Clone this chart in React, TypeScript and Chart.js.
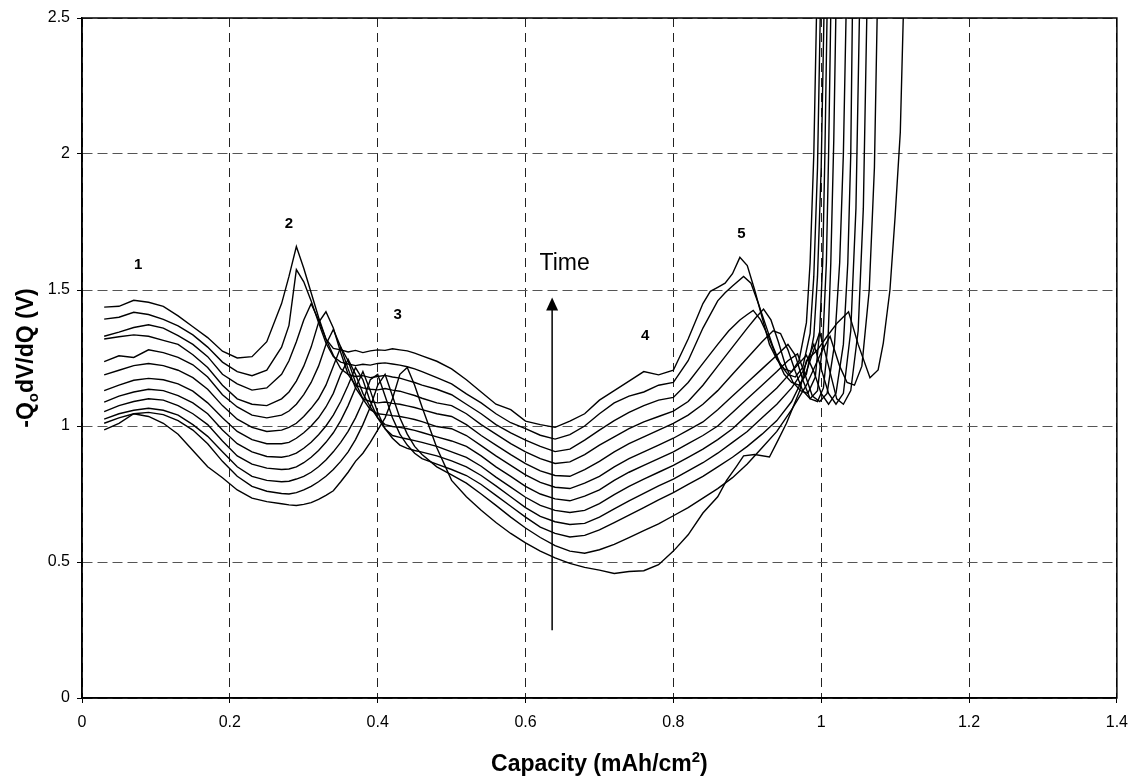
import React, { useEffect, useRef } from "react";
import { Chart, registerables } from "chart.js";

Chart.register(...registerables);

const FONT = "'Liberation Sans', Arial, Helvetica, sans-serif";

// Common capacity grid (mAh/cm2) for the first part of every curve
const GRID_X = [
  0.03, 0.05, 0.07, 0.09, 0.11, 0.13, 0.15, 0.17, 0.19, 0.21, 0.23, 0.25, 0.27,
  0.28, 0.29, 0.3, 0.31, 0.32, 0.33, 0.34, 0.35, 0.36, 0.37, 0.38, 0.39, 0.4, 0.41, 0.42, 0.43, 0.44, 0.45, 0.46,
  0.48, 0.5, 0.52, 0.54, 0.56, 0.58, 0.6, 0.62, 0.64, 0.66, 0.68, 0.7, 0.72, 0.74, 0.76, 0.78, 0.8, 0.82, 0.84,
];

// -QodV/dQ values on GRID_X, curve 0 = top (latest) ... curve 11 = bottom
const C0 = [
  1.437, 1.44, 1.462, 1.455, 1.44, 1.405, 1.365, 1.325, 1.275, 1.25, 1.255, 1.31, 1.45,
  1.55, 1.66, 1.58, 1.49, 1.4, 1.32, 1.285, 1.28, 1.272, 1.278, 1.27, 1.276, 1.28, 1.278, 1.284, 1.28, 1.276, 1.268, 1.258,
  1.238, 1.21, 1.17, 1.125, 1.08, 1.06, 1.018, 1.005, 0.995, 1.018, 1.045, 1.095, 1.13, 1.165, 1.2, 1.188, 1.205, 1.32, 1.45,
];
const C1 = [
  1.393, 1.4, 1.418, 1.41, 1.392, 1.368, 1.335, 1.29, 1.235, 1.2, 1.185, 1.205, 1.29,
  1.37, 1.575, 1.53, 1.46, 1.38, 1.305, 1.255, 1.235, 1.228, 1.222, 1.227, 1.224, 1.23, 1.232, 1.228, 1.224, 1.218, 1.21, 1.2,
  1.178, 1.155, 1.118, 1.085, 1.045, 1.012, 0.99, 0.966, 0.952, 0.968, 1.0, 1.045, 1.085, 1.11, 1.125, 1.15, 1.16, 1.24, 1.36,
];
const C2 = [
  1.33, 1.345, 1.362, 1.372, 1.36, 1.332, 1.3, 1.255, 1.19, 1.155, 1.132, 1.14, 1.19,
  1.24, 1.31, 1.39, 1.45, 1.39, 1.32, 1.26, 1.21, 1.19, 1.182, 1.185, 1.178, 1.182, 1.186, 1.18, 1.176, 1.168, 1.16, 1.15,
  1.135, 1.115, 1.08, 1.045, 1.005, 0.975, 0.948, 0.925, 0.906, 0.915, 0.948, 0.985, 1.02, 1.05, 1.075, 1.095, 1.105, 1.16, 1.23,
];
const C3 = [
  1.32, 1.328, 1.335, 1.33, 1.315, 1.3, 1.262, 1.215, 1.15, 1.1, 1.08, 1.075, 1.1,
  1.125, 1.165, 1.22, 1.29, 1.38, 1.42, 1.36, 1.27, 1.19, 1.15, 1.14, 1.135, 1.133, 1.138, 1.132, 1.128, 1.12, 1.112, 1.102,
  1.085, 1.075, 1.045, 1.005, 0.97, 0.935, 0.905, 0.88, 0.862, 0.868, 0.895, 0.93, 0.96, 0.99, 1.015, 1.035, 1.055, 1.09, 1.15,
];
const C4 = [
  1.237, 1.258, 1.252, 1.28, 1.27, 1.252, 1.225, 1.18, 1.115, 1.07, 1.04, 1.03, 1.04,
  1.055, 1.08, 1.115, 1.16, 1.22, 1.3, 1.355, 1.29, 1.21, 1.14, 1.1, 1.09, 1.085, 1.088, 1.083, 1.08, 1.074, 1.068, 1.06,
  1.045, 1.035, 1.005, 0.965, 0.93, 0.895, 0.862, 0.835, 0.818, 0.815, 0.84, 0.87, 0.905, 0.935, 0.96, 0.985, 1.01, 1.04, 1.08,
];
const C5 = [
  1.188, 1.205, 1.222, 1.23, 1.222, 1.205, 1.178, 1.135, 1.075, 1.025, 0.995, 0.98, 0.985,
  0.995, 1.01, 1.035, 1.065, 1.1, 1.15, 1.22, 1.29, 1.24, 1.16, 1.1, 1.06, 1.045, 1.042, 1.038, 1.035, 1.03, 1.024, 1.016,
  0.998, 0.99, 0.965, 0.928, 0.89, 0.855, 0.82, 0.793, 0.775, 0.77, 0.79, 0.815, 0.85, 0.88, 0.905, 0.93, 0.955, 0.985, 1.015,
];
const C6 = [
  1.13, 1.15, 1.168, 1.175, 1.17, 1.155, 1.128, 1.085, 1.03, 0.98, 0.95, 0.935, 0.935,
  0.94, 0.955, 0.975, 1.0, 1.03, 1.07, 1.12, 1.19, 1.245, 1.19, 1.12, 1.07, 1.03, 1.005, 0.998, 0.995, 0.99, 0.984, 0.976,
  0.96, 0.945, 0.925, 0.89, 0.85, 0.815, 0.778, 0.75, 0.732, 0.725, 0.742, 0.765, 0.8, 0.83, 0.855, 0.88, 0.905, 0.935, 0.965,
];
const C7 = [
  1.088, 1.11, 1.125, 1.135, 1.13, 1.112, 1.085, 1.045, 0.985, 0.935, 0.905, 0.888, 0.885,
  0.89, 0.9, 0.918, 0.94, 0.968, 1.0, 1.04, 1.09, 1.15, 1.215, 1.17, 1.09, 1.03, 0.99, 0.965, 0.958, 0.952, 0.946, 0.94,
  0.925, 0.905, 0.885, 0.852, 0.812, 0.775, 0.738, 0.708, 0.69, 0.682, 0.69, 0.715, 0.748, 0.778, 0.805, 0.83, 0.855, 0.885, 0.915,
];
const C8 = [
  1.053, 1.075, 1.09, 1.1, 1.095, 1.075, 1.045, 1.005, 0.945, 0.89, 0.86, 0.845, 0.84,
  0.842, 0.85, 0.865, 0.885, 0.91, 0.94, 0.975, 1.02, 1.075, 1.14, 1.2, 1.13, 1.05, 0.99, 0.955, 0.93, 0.918, 0.91, 0.904,
  0.89, 0.872, 0.85, 0.818, 0.78, 0.74, 0.7, 0.668, 0.648, 0.638, 0.642, 0.665, 0.695, 0.725, 0.752, 0.78, 0.805, 0.835, 0.865,
];
const C9 = [
  1.025, 1.045, 1.058, 1.065, 1.058, 1.04, 1.005, 0.962, 0.905, 0.85, 0.815, 0.8, 0.795,
  0.797, 0.805, 0.815, 0.83, 0.85, 0.875, 0.905, 0.94, 0.98, 1.03, 1.09, 1.17, 1.19, 1.11, 1.03, 0.97, 0.93, 0.9, 0.88,
  0.86, 0.84, 0.818, 0.785, 0.745, 0.705, 0.665, 0.628, 0.605, 0.592, 0.598, 0.618, 0.645, 0.672, 0.7, 0.728, 0.755, 0.785, 0.815,
];
const C10 = [
  1.01, 1.03, 1.045, 1.05, 1.042, 1.02, 0.985, 0.935, 0.87, 0.815, 0.778, 0.76, 0.752,
  0.75, 0.755, 0.765, 0.778, 0.795, 0.815, 0.84, 0.87, 0.905, 0.95, 1.005, 1.07, 1.15, 1.19, 1.11, 1.03, 0.97, 0.925, 0.895,
  0.85, 0.82, 0.79, 0.75, 0.708, 0.665, 0.625, 0.59, 0.56, 0.54, 0.532, 0.545, 0.565, 0.59, 0.615, 0.64, 0.67, 0.7, 0.735,
];
const C11 = [
  0.986, 1.01, 1.045, 1.035, 1.01, 0.97, 0.91, 0.85, 0.81, 0.765, 0.735, 0.722, 0.714,
  0.71, 0.708, 0.712, 0.718, 0.73, 0.745, 0.762, 0.795, 0.83, 0.87, 0.9, 0.94, 0.985, 1.03, 1.1, 1.19, 1.215, 1.15, 1.07,
  0.92, 0.8, 0.74, 0.69, 0.645, 0.605, 0.57, 0.54, 0.515, 0.495, 0.48, 0.47, 0.458, 0.465, 0.468, 0.49, 0.54, 0.6, 0.68,
];

// Tails (peak 5, dip and the steep rise at end of discharge), per curve
const T0X = [0.85, 0.86, 0.87, 0.88, 0.89, 0.9, 0.91, 0.92, 0.93, 0.94, 0.95, 0.96, 0.97, 0.98, 0.985, 0.99, 0.995];
const T0Y = [1.495, 1.51, 1.525, 1.56, 1.62, 1.59, 1.5, 1.4, 1.3, 1.245, 1.21, 1.2, 1.24, 1.38, 1.6, 2.0, 2.7];
const T1X = [0.86, 0.87, 0.88, 0.895, 0.905, 0.915, 0.925, 0.935, 0.945, 0.955, 0.965, 0.975, 0.985, 0.99, 0.995, 1.0];
const T1Y = [1.46, 1.49, 1.515, 1.55, 1.525, 1.45, 1.37, 1.29, 1.225, 1.19, 1.18, 1.215, 1.34, 1.55, 1.95, 2.7];
const T2X = [0.86, 0.875, 0.89, 0.9, 0.908, 0.918, 0.93, 0.94, 0.95, 0.96, 0.97, 0.98, 0.99, 0.995, 1.0, 1.005];
const T2Y = [1.3, 1.35, 1.39, 1.41, 1.425, 1.39, 1.32, 1.25, 1.19, 1.16, 1.15, 1.19, 1.33, 1.55, 1.95, 2.7];
const T3X = [0.86, 0.88, 0.9, 0.912, 0.922, 0.932, 0.942, 0.952, 0.962, 0.972, 0.982, 0.992, 0.998, 1.002, 1.005, 1.009];
const T3Y = [1.22, 1.29, 1.36, 1.4, 1.43, 1.39, 1.31, 1.22, 1.16, 1.13, 1.12, 1.18, 1.35, 1.6, 2.0, 2.7];
const T4X = [0.86, 0.88, 0.9, 0.92, 0.935, 0.945, 0.955, 0.965, 0.975, 0.985, 0.995, 1.002, 1.007, 1.01, 1.014];
const T4Y = [1.13, 1.19, 1.25, 1.31, 1.35, 1.34, 1.28, 1.2, 1.13, 1.1, 1.13, 1.3, 1.6, 2.0, 2.7];
const T5X = [0.86, 0.88, 0.9, 0.92, 0.94, 0.955, 0.965, 0.975, 0.985, 0.995, 1.003, 1.009, 1.013, 1.017, 1.021];
const T5Y = [1.06, 1.11, 1.16, 1.21, 1.26, 1.3, 1.26, 1.17, 1.1, 1.09, 1.14, 1.3, 1.6, 2.05, 2.7];
const T6X = [0.86, 0.88, 0.9, 0.92, 0.94, 0.955, 0.968, 0.978, 0.988, 0.998, 1.008, 1.018, 1.025, 1.03, 1.035];
const T6Y = [1.0, 1.05, 1.1, 1.15, 1.2, 1.24, 1.265, 1.19, 1.11, 1.09, 1.12, 1.3, 1.6, 2.0, 2.7];
const T7X = [0.86, 0.88, 0.9, 0.92, 0.94, 0.96, 0.98, 0.99, 1.0, 1.01, 1.02, 1.03, 1.036, 1.04, 1.043];
const T7Y = [0.95, 0.99, 1.04, 1.09, 1.14, 1.2, 1.26, 1.2, 1.12, 1.08, 1.12, 1.3, 1.6, 2.0, 2.7];
const T8X = [0.86, 0.88, 0.9, 0.92, 0.94, 0.96, 0.975, 0.99, 1.0, 1.01, 1.02, 1.03, 1.04, 1.047, 1.053];
const T8Y = [0.9, 0.94, 0.98, 1.03, 1.08, 1.14, 1.2, 1.3, 1.21, 1.12, 1.08, 1.12, 1.35, 1.8, 2.7];
const T9X = [0.86, 0.88, 0.9, 0.92, 0.94, 0.96, 0.98, 0.998, 1.01, 1.021, 1.03, 1.04, 1.05, 1.057, 1.063];
const T9Y = [0.85, 0.885, 0.925, 0.97, 1.02, 1.09, 1.2, 1.345, 1.22, 1.1, 1.08, 1.13, 1.35, 1.8, 2.7];
const T10X = [0.86, 0.88, 0.9, 0.92, 0.94, 0.96, 0.98, 1.0, 1.012, 1.025, 1.035, 1.045, 1.055, 1.065, 1.072, 1.077];
const T10Y = [0.77, 0.81, 0.86, 0.92, 0.98, 1.06, 1.15, 1.27, 1.33, 1.22, 1.16, 1.15, 1.22, 1.5, 1.95, 2.7];
const T11X = [0.86, 0.872, 0.885, 0.895, 0.91, 0.93, 0.942, 0.953, 0.962, 0.971, 0.98, 0.995, 1.008, 1.022, 1.037, 1.05, 1.066, 1.077, 1.084, 1.093, 1.1, 1.107, 1.111, 1.114];
const T11Y = [0.74, 0.8, 0.85, 0.89, 0.895, 0.886, 0.95, 1.01, 1.07, 1.13, 1.24, 1.28, 1.33, 1.38, 1.42, 1.3, 1.177, 1.206, 1.305, 1.5, 1.77, 2.08, 2.5, 2.75];

const CURVES: [number[], number[], number[]][] = [
  [C0, T0X, T0Y], [C1, T1X, T1Y], [C2, T2X, T2Y], [C3, T3X, T3Y],
  [C4, T4X, T4Y], [C5, T5X, T5Y], [C6, T6X, T6Y], [C7, T7X, T7Y],
  [C8, T8X, T8Y], [C9, T9X, T9Y], [C10, T10X, T10Y], [C11, T11X, T11Y],
];

const X_TICKS = [0, 0.2, 0.4, 0.6, 0.8, 1, 1.2, 1.4];
const Y_TICKS = [0, 0.5, 1, 1.5, 2, 2.5];

// Peak annotations
const PEAK_LABELS = ["1", "2", "3", "4", "5"];
const PEAK_X = [0.076, 0.28, 0.427, 0.762, 0.892];
const PEAK_Y = [1.592, 1.743, 1.408, 1.33, 1.706];
const TIME_LABEL = "Time";
const TIME_POS = [0.653, 1.596];
const ARROW_X = 0.636;
const ARROW_FROM = 0.249;
const ARROW_TO = 1.472;

const X_TITLE = ["Capacity (mAh/cm", "2", ")"];
const Y_TITLE = ["-Q", "o", "dV/dQ (V)"];

const fmt = (v: number) => String(Math.round(v * 10) / 10);

export default function App() {
  const ref = useRef<HTMLCanvasElement>(null);

  useEffect(() => {
    const canvas = ref.current;
    if (!canvas) return;

    const datasets = CURVES.map(([c, tx, ty]) => ({
      data: [
        ...GRID_X.map((x, i) => ({ x, y: c[i] })),
        ...tx.map((x, i) => ({ x, y: ty[i] })),
      ],
      borderColor: "#000",
      borderWidth: 1.4,
      pointRadius: 0,
      tension: 0,
      fill: false,
    }));

    const overlay = {
      id: "overlay",
      afterDraw(chart: any) {
        const { ctx, chartArea } = chart;
        const xs = chart.scales.x;
        const ys = chart.scales.y;
        ctx.save();
        // plot frame
        ctx.strokeStyle = "#000";
        ctx.lineWidth = 1.5;
        ctx.setLineDash([]);
        ctx.strokeRect(chartArea.left, chartArea.top, chartArea.right - chartArea.left, chartArea.bottom - chartArea.top);

        // peak numbers
        ctx.fillStyle = "#000";
        ctx.textAlign = "center";
        ctx.textBaseline = "middle";
        ctx.font = `bold 15px ${FONT}`;
        PEAK_LABELS.forEach((t, i) => {
          ctx.fillText(t, xs.getPixelForValue(PEAK_X[i]), ys.getPixelForValue(PEAK_Y[i]));
        });
        ctx.font = `23px ${FONT}`;
        ctx.fillText(TIME_LABEL, xs.getPixelForValue(TIME_POS[0]), ys.getPixelForValue(TIME_POS[1]));

        // arrow
        const ax = xs.getPixelForValue(ARROW_X);
        const ay0 = ys.getPixelForValue(ARROW_FROM);
        const ay1 = ys.getPixelForValue(ARROW_TO);
        ctx.lineWidth = 1.5;
        ctx.beginPath();
        ctx.moveTo(ax, ay0);
        ctx.lineTo(ax, ay1 + 10);
        ctx.stroke();
        ctx.beginPath();
        ctx.moveTo(ax, ay1);
        ctx.lineTo(ax - 6, ay1 + 13);
        ctx.lineTo(ax + 6, ay1 + 13);
        ctx.closePath();
        ctx.fill();

        // x title with superscript
        const cx = (chartArea.left + chartArea.right) / 2;
        const big = `bold 23px ${FONT}`;
        const small = `bold 15px ${FONT}`;
        ctx.textAlign = "left";
        ctx.textBaseline = "alphabetic";
        ctx.font = big;
        const w1 = ctx.measureText(X_TITLE[0]).width;
        const w3 = ctx.measureText(X_TITLE[2]).width;
        ctx.font = small;
        const w2 = ctx.measureText(X_TITLE[1]).width;
        const x0 = cx - (w1 + w2 + w3) / 2;
        const by = 771;
        ctx.font = big;
        ctx.fillText(X_TITLE[0], x0, by);
        ctx.font = small;
        ctx.fillText(X_TITLE[1], x0 + w1, by - 9);
        ctx.font = big;
        ctx.fillText(X_TITLE[2], x0 + w1 + w2, by);

        // y title with subscript, rotated
        const cy = (chartArea.top + chartArea.bottom) / 2;
        ctx.translate(33, cy);
        ctx.rotate(-Math.PI / 2);
        ctx.font = big;
        const v1 = ctx.measureText(Y_TITLE[0]).width;
        const v3 = ctx.measureText(Y_TITLE[2]).width;
        ctx.font = small;
        const v2 = ctx.measureText(Y_TITLE[1]).width;
        const s0 = -(v1 + v2 + v3) / 2;
        ctx.font = big;
        ctx.fillText(Y_TITLE[0], s0, 0);
        ctx.font = small;
        ctx.fillText(Y_TITLE[1], s0 + v1, 5);
        ctx.font = big;
        ctx.fillText(Y_TITLE[2], s0 + v1 + v2, 0);
        ctx.restore();
      },
    };

    const gridCommon = {
      lineWidth: 1,
      drawTicks: true,
      tickLength: 5,
      tickColor: "#000",
      tickWidth: 1,
    };

    const chart = new Chart(canvas, {
      type: "line",
      data: { datasets } as any,
      options: {
        responsive: false,
        animation: false,
        devicePixelRatio: 1,
        layout: { padding: { top: 18, right: 20, left: 0, bottom: 0 } },
        plugins: { legend: { display: false }, tooltip: { enabled: false } },
        scales: {
          x: {
            type: "linear",
            min: 0,
            max: 1.4,
            afterBuildTicks: (s: any) => {
              s.ticks = X_TICKS.map((v) => ({ value: v }));
            },
            afterFit: (s: any) => {
              s.height = 84;
            },
            ticks: {
              color: "#000",
              font: { family: FONT, size: 16 },
              padding: 10,
              maxRotation: 0,
              autoSkip: false,
              callback: (v: any) => fmt(Number(v)),
            },
            grid: { ...gridCommon, color: "#222" },
            border: { display: true, color: "#000", width: 1.5, dash: [9, 6] },
          },
          y: {
            type: "linear",
            min: 0,
            max: 2.5,
            afterBuildTicks: (s: any) => {
              s.ticks = Y_TICKS.map((v) => ({ value: v }));
            },
            afterFit: (s: any) => {
              s.width = 82;
            },
            ticks: {
              color: "#000",
              font: { family: FONT, size: 16 },
              padding: 7,
              autoSkip: false,
              callback: (v: any) => fmt(Number(v)),
            },
            grid: { ...gridCommon, color: "#555" },
            border: { display: true, color: "#000", width: 1.5, dash: [10, 5] },
          },
        },
      } as any,
      plugins: [overlay],
    });

    return () => chart.destroy();
  }, []);

  return (
    <div style={{ position: "absolute", left: 0, top: 0, width: 1138, height: 782, background: "#fff" }}>
      <canvas ref={ref} width={1138} height={782} style={{ display: "block", width: 1138, height: 782 }} />
    </div>
  );
}
